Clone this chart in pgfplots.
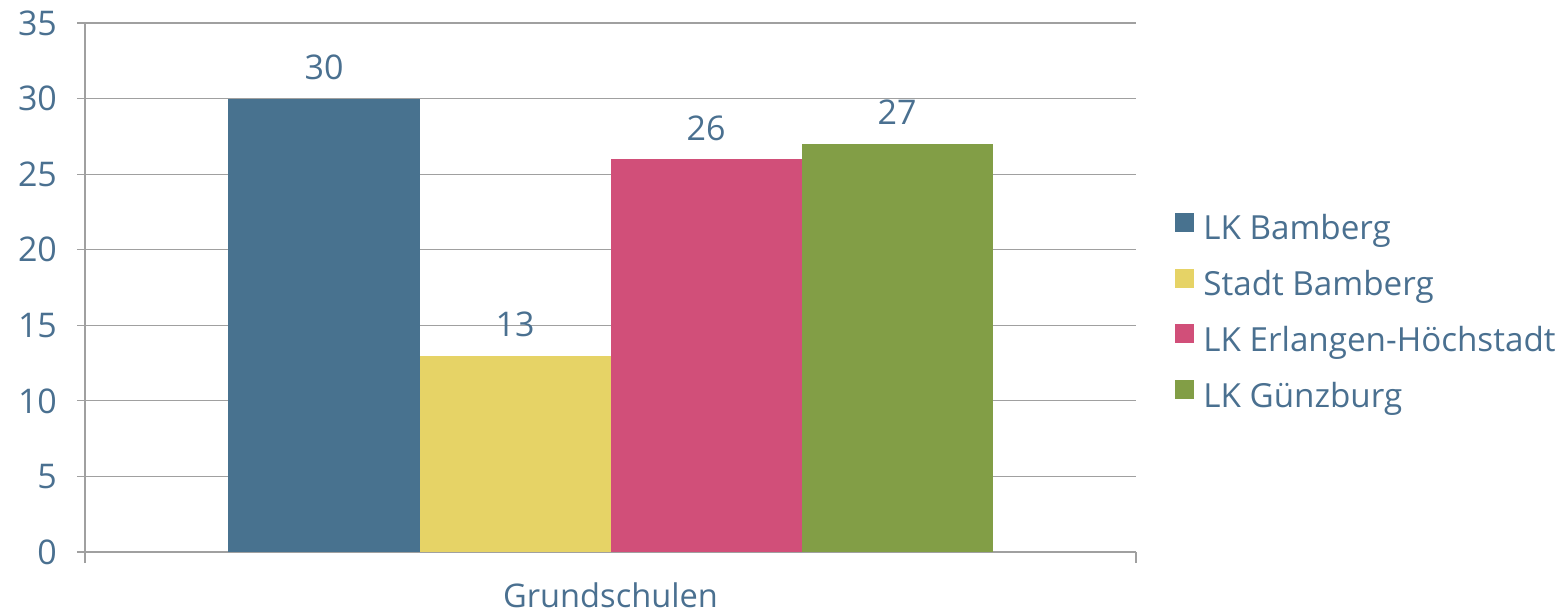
\documentclass[border=0pt]{standalone}
\usepackage{pgfplots}
\pgfplotsset{compat=1.18}
\usepackage{fontspec}
\setmainfont{Open Sans}
\definecolor{txt}{RGB}{74,112,144}
\definecolor{c1}{RGB}{72,114,143}
\definecolor{c2}{RGB}{230,211,102}
\definecolor{c3}{RGB}{209,79,121}
\definecolor{c4}{RGB}{130,158,70}
\definecolor{gridc}{RGB}{160,160,160}
\newcommand{\nf}{\fontsize{17}{20}\selectfont}
\newcommand{\lf}{\fontsize{16.6}{20}\selectfont}
\begin{document}
\begin{tikzpicture}
\useasboundingbox (-42.5pt,-30pt) rectangle (738.5pt,276pt);
\begin{axis}[
  at={(0,0)}, anchor=south west,
  scale only axis, width=525.5pt, height=264.5pt,
  xmin=-1, xmax=1, ymin=0, ymax=35,
  ytick={0,5,...,35},
  xtick=\empty,
  extra x ticks={-1,1}, extra x tick labels={},
  extra x tick style={major tick length=5.5pt, tick style={gridc, line width=0.6pt}},
  ymajorgrids, grid style={gridc, line width=0.6pt},
  axis x line*=bottom, axis y line*=left,
  axis line style={gridc, line width=0.6pt},
  tick align=outside, major tick length=4pt,
  tick style={gridc, line width=0.6pt},
  /pgf/number format/assume math mode=true,
  ticklabel style={text=txt, font=\nf},
  yticklabel style={xshift=-6.5pt},
  xlabel={Grundschulen},
  xlabel style={at={(axis description cs:0.5,0)}, anchor=base, yshift=-27.5pt, text=txt, font=\fontsize{16.3}{19}\selectfont, inner sep=0pt},
  ybar=0pt, bar width=95.5pt,
  nodes near coords,
  every node near coord/.append style={text=txt, font=\nf, anchor=base, inner sep=0pt, yshift=9.5pt},
  legend cell align=left,
  legend style={draw=none, fill=none, at={(1.0371,0.450)}, anchor=west, inner sep=0pt,
    row sep=10.4pt, column sep=4.5pt,
    nodes={inner sep=0pt, text height=12pt, text depth=4pt, text=txt, font=\lf}},
]
\addplot[fill=c1, draw=none, legend image code/.code={\fill[c1] (0pt,0pt) rectangle (9.5pt,9.5pt);}] coordinates {(0,30)};
\addplot[fill=c2, draw=none, legend image code/.code={\fill[c2] (0pt,0pt) rectangle (9.5pt,9.5pt);}] coordinates {(0,13)};
\addplot[fill=c3, draw=none, legend image code/.code={\fill[c3] (0pt,0pt) rectangle (9.5pt,9.5pt);}] coordinates {(0,26)};
\addplot[fill=c4, draw=none, legend image code/.code={\fill[c4] (0pt,0pt) rectangle (9.5pt,9.5pt);}] coordinates {(0,27)};
\legend{LK Bamberg, Stadt Bamberg, LK Erlangen-Höchstadt, LK Günzburg}
\end{axis}
\end{tikzpicture}
\end{document}
